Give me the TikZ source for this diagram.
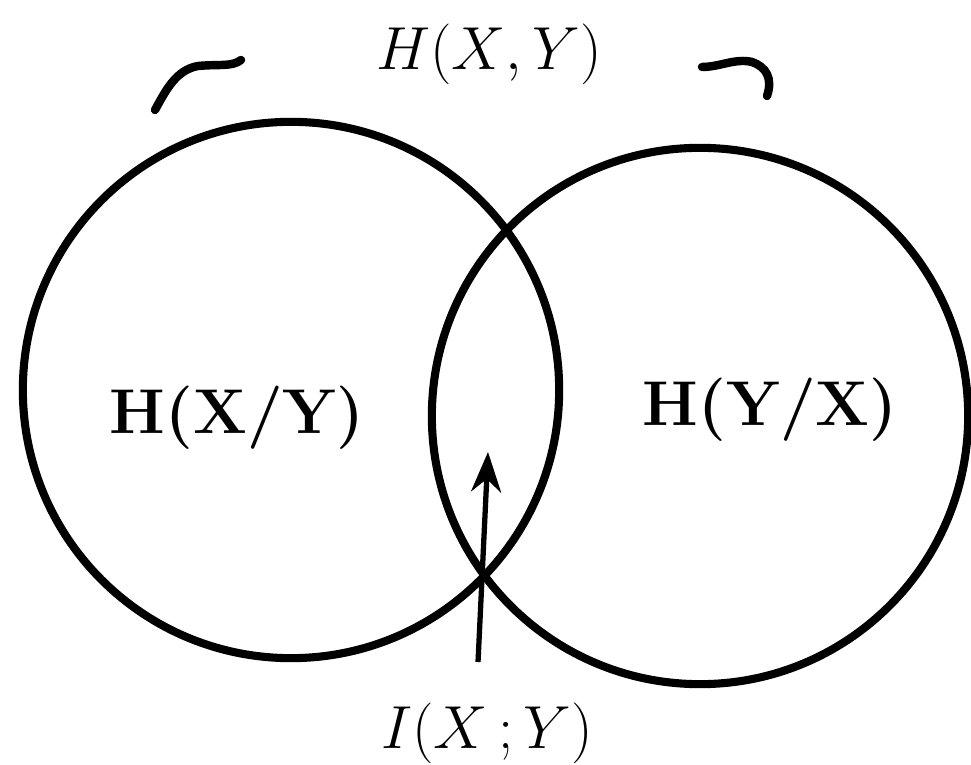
\documentclass[tikz,border=0pt]{standalone}
\usetikzlibrary{arrows.meta,positioning}

\begin{document}
\begin{tikzpicture}[x=0.01cm, y=-0.01cm,
  circ/.style={draw, circle, line width=2.3pt, minimum size=5.36cm, inner sep=0pt},
  lbl/.style={font=\fontsize{18}{22}\selectfont\bfseries, inner sep=0pt},
  mlbl/.style={font=\fontsize{18}{22}\selectfont, inner sep=0pt},
  tick/.style={line width=2.4pt, line cap=round},
  arr/.style={line width=1.5pt, -{Stealth[length=4mm, width=3mm]}}]
\useasboundingbox[fill=white] (0,0) rectangle (971,765);
\node[circ] (lc) at (291,390) {};
\node[circ] (rc) at (700,416) {};
\node[lbl] (hxy) at (237,418) {H(X/Y)};
\node[lbl] (hyx) at (770,410) {H(Y/X)};
\node[mlbl] (joint) at (489,54) {$H(X{,}\,Y)$};
\node[mlbl] (mutual) at (487,733) {$I(X\,;Y)$};
\coordinate (tail) at (478,662);
\coordinate (tip) at (488,452);
\draw[arr] (tail) -- (tip);
% brace ends over the joint entropy
\draw[tick] (155,110) .. controls (166,90) and (176,70) .. (198,66) .. controls (220,64) and (232,67) .. (241,60);
\draw[tick] (702,67) .. controls (720,67) and (735,58) .. (752,62) .. controls (766,67) and (773,78) .. (767,96);
\end{tikzpicture}
\end{document}
